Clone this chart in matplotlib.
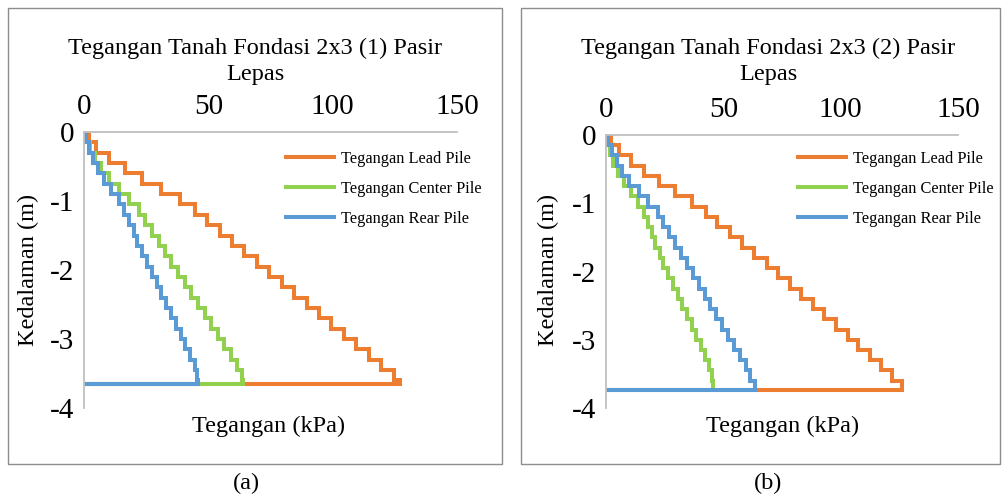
import matplotlib
matplotlib.use("Agg")
import matplotlib.pyplot as plt
from matplotlib.patches import Rectangle

plt.rcParams['font.family'] = ['Liberation Serif', 'DejaVu Serif']
plt.rcParams['axes.unicode_minus'] = False

# ---------------- data ----------------
series_names = ["Tegangan Lead Pile", "Tegangan Center Pile", "Tegangan Rear Pile"]
colors = ["#ED7D31", "#92D050", "#5B9BD5"]

depth_a = [0, -0.15, -0.30, -0.45, -0.60, -0.75, -0.90, -1.05, -1.20, -1.35, -1.50, -1.65,
           -1.80, -1.95, -2.10, -2.25, -2.40, -2.55, -2.70, -2.85, -3.00, -3.15, -3.30,
           -3.45, -3.60, -3.65]
lead_a = [0, 2, 5, 10, 16.5, 23.5, 31, 38.5, 44.5, 49.5, 54.5, 59.5, 64.5, 69.5, 74.5,
          79.5, 84.5, 89.5, 94.5, 99.5, 104.5, 109.5, 114.5, 119.5, 124.5, 127]
center_a = [0, 1, 2.5, 4.5, 7, 10, 14, 18, 22, 24.5, 27.5, 30, 32.5, 35, 38, 40.5, 43,
            46, 48.5, 51, 54, 56.5, 59, 61.5, 63.5, 64]
rear_a = [0, 1, 2, 3.5, 5.5, 8, 11, 14, 16, 18, 20, 21.5, 23.5, 25.5, 27.5, 29.5, 31,
          33, 35, 37, 39, 40.5, 42.5, 44.5, 45.5, 46]

depth_b = [0, -0.15, -0.30, -0.45, -0.60, -0.75, -0.90, -1.05, -1.20, -1.35, -1.50, -1.65,
           -1.80, -1.95, -2.10, -2.25, -2.40, -2.55, -2.70, -2.85, -3.00, -3.15, -3.30,
           -3.45, -3.60, -3.74]
lead_b = [0, 2, 5.5, 10.5, 16, 22.5, 29.5, 36.5, 42.5, 47.5, 53, 58, 63, 68.5, 73.5,
          78.5, 83, 88, 93, 98, 103, 107.5, 112.5, 117, 122, 126]
center_b = [0, 0.5, 1.5, 3, 5, 7.5, 10.5, 13.5, 16, 18, 19.5, 21, 23, 24.5, 26.5, 28.5,
            30.5, 32.5, 34.5, 36.5, 38.5, 40.5, 42, 44, 45, 45.5]
rear_b = [0, 1, 2.5, 4.5, 7, 10, 14, 18, 22, 24.5, 27, 29.5, 32, 34.5, 37, 39.5, 42,
          44.5, 47, 49.5, 52, 54.5, 57, 59.5, 61.5, 63.5]

x_ticks = [0, 50, 100, 150]
y_ticks = [0, -1, -2, -3, -4]
titles = ["Tegangan Tanah Fondasi 2x3 (1) Pasir\nLepas",
          "Tegangan Tanah Fondasi 2x3 (2) Pasir\nLepas"]
xlabel = "Tegangan (kPa)"
ylabel = "Kedalaman (m)"
panel_labels = ["(a)", "(b)"]

# ---------------- layout ----------------
W, H = 1003, 498
fig = plt.figure(figsize=(W / 100, H / 100), dpi=100)

def fx(px):
    return px / W

def fy(py):
    return 1 - py / H

panels = [
    dict(box=(8, 8, 502, 464), ax=(84, 132, 457, 408), depth=depth_a,
         data=[lead_a, center_a, rear_a], title_x=255, ylab_x=28, xlab_x=269,
         leg=(284, 151), lab_x=246),
    dict(box=(521, 8, 1000, 464), ax=(606, 135, 958, 408), depth=depth_b,
         data=[lead_b, center_b, rear_b], title_x=768, ylab_x=548, xlab_x=783,
         leg=(796, 151), lab_x=768),
]

border_col = "#8C8C8C"
axis_col = "#BFBFBF"

for i, p in enumerate(panels):
    x0, y0, x1, y1 = p["box"]
    fig.patches.append(Rectangle((fx(x0), fy(y1)), fx(x1) - fx(x0), fy(y0) - fy(y1),
                                 transform=fig.transFigure, fill=False,
                                 edgecolor=border_col, linewidth=1.0))
    l, t, r, b = p["ax"]
    ax = fig.add_axes([fx(l), fy(b), fx(r) - fx(l), fy(t) - fy(b)])
    d = p["depth"]
    for vals, name, c in zip(p["data"], series_names, colors):
        xs = list(vals) + [0]
        ys = list(d) + [d[-1]]
        ax.plot(xs, ys, drawstyle="steps-post", color=c, lw=2.9, label=name,
                solid_capstyle="butt", solid_joinstyle="miter")
    ax.set_xlim(0, 150)
    ax.set_ylim(-4, 0)
    ax.set_xticks(x_ticks)
    ax.set_yticks(y_ticks)
    ax.xaxis.tick_top()
    ax.tick_params(axis="both", length=0, labelsize=21)
    ax.tick_params(axis="x", pad=9)
    ax.tick_params(axis="y", pad=7)
    for s in ["right", "bottom"]:
        ax.spines[s].set_visible(False)
    for s in ["top", "left"]:
        ax.spines[s].set_color(axis_col)
        ax.spines[s].set_linewidth(1.3)
    ax.patch.set_alpha(0)

    fig.text(fx(p["title_x"]), fy(61.5), titles[i], ha="center", va="center",
             fontsize=17.5, linespacing=1.35)
    fig.text(fx(p["ylab_x"]), fy(270), ylabel, ha="center", va="center",
             rotation=90, fontsize=17.5)
    fig.text(fx(p["xlab_x"]), fy(426), xlabel, ha="center", va="center", fontsize=17.5)
    fig.text(fx(p["lab_x"]), fy(483), panel_labels[i], ha="center", va="center",
             fontsize=17.5)

    lx, ly = p["leg"]
    ax.legend(loc="upper left", bbox_to_anchor=(fx(lx), fy(ly)),
              bbox_transform=fig.transFigure, frameon=False, fontsize=11.8,
              handlelength=3.15, handletextpad=0.35, labelspacing=0.84,
              borderpad=0, borderaxespad=0)

fig.savefig("out.png", dpi=100)
